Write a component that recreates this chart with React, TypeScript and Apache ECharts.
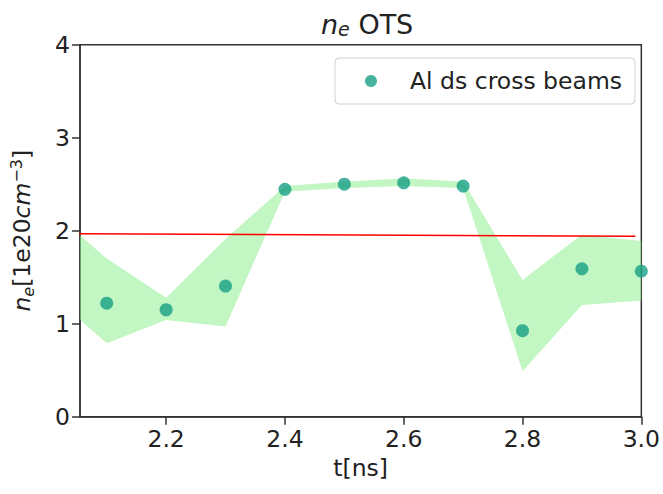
import React, { useEffect, useRef } from "react";
import * as echarts from "echarts";

// Band (fill_between) data
const tBand = [2.0, 2.1, 2.2, 2.3, 2.4, 2.5, 2.6, 2.7, 2.8, 2.9, 3.0];
const bandLower = [1.35, 0.79, 1.04, 0.97, 2.42, 2.46, 2.48, 2.46, 0.49, 1.2, 1.25];
const bandUpper = [2.26, 1.7, 1.28, 1.91, 2.48, 2.53, 2.56, 2.53, 1.47, 1.96, 1.89];

// Measured points
const tPoints = [2.1, 2.2, 2.3, 2.4, 2.5, 2.6, 2.7, 2.8, 2.9, 3.0];
const neValues = [1.22, 1.15, 1.405, 2.445, 2.5, 2.515, 2.48, 0.925, 1.59, 1.565];

// Reference (red) line
const refT = [2.0, 2.99];
const refNe = [1.97, 1.94];

// Ticks
const xTicks = [2.2, 2.4, 2.6, 2.8, 3.0];
const xTickLabels = ["2.2", "2.4", "2.6", "2.8", "3.0"];

const seriesName = "Al ds cross beams";

export default function App() {
  const ref = useRef<HTMLDivElement>(null);
  useEffect(() => {
    if (!ref.current) return;
    const chart = echarts.init(ref.current, null, { renderer: "svg" });
    const font = "DejaVu Sans";
    const axisColor = "#333";
    const txt = "#222";
    const fs = 23.5;
    const option: any = {
      animation: false,
      backgroundColor: "#fff",
      textStyle: { fontFamily: font },
      title: {
        text: "{i|n}{sub|e}{n| OTS}",
        left: 316,
        top: 1,
        textStyle: {
          fontWeight: "normal",
          rich: {
            i: { fontFamily: font, fontSize: 27, fontWeight: "normal", fontStyle: "italic", color: txt, lineHeight: 32, verticalAlign: "bottom" },
            sub: { fontFamily: font, fontSize: 19, fontWeight: "normal", fontStyle: "italic", color: txt, lineHeight: 14, verticalAlign: "bottom" },
            n: { fontFamily: font, fontSize: 27, fontWeight: "normal", color: txt, lineHeight: 32, verticalAlign: "bottom" },
          },
        },
      },
      legend: {
        left: 335,
        top: 58,
        padding: [11, 13, 11, 30],
        backgroundColor: "rgba(255,255,255,0.8)",
        borderColor: "#d0d0d0",
        borderWidth: 1,
        borderRadius: 4,
        itemWidth: 12,
        itemHeight: 12,
        data: [{ name: seriesName, icon: "circle" }],
        formatter: (name: string) => "{a|" + name + "}",
        textStyle: {
          fontFamily: font,
          fontSize: fs,
          color: txt,
          rich: { a: { fontFamily: font, fontSize: fs, color: txt, padding: [0, 0, 0, 28] } },
        },
      },
      grid: {
        left: 80,
        right: 18,
        top: 44.7,
        bottom: 77.3,
        show: true,
        borderColor: axisColor,
        borderWidth: 1.5,
        backgroundColor: "transparent",
      },
      xAxis: {
        type: "value",
        min: 2.055,
        max: 3.0,
        name: "t[ns]",
        nameLocation: "middle",
        nameGap: 36,
        nameTextStyle: { fontFamily: font, fontSize: fs, color: txt },
        splitLine: { show: false },
        axisLine: { show: true, lineStyle: { color: axisColor, width: 1.5 } },
        axisTick: { show: true, customValues: xTicks, length: 8, inside: false, lineStyle: { color: axisColor, width: 1.5 } },
        axisLabel: {
          customValues: xTicks,
          fontFamily: font,
          fontSize: fs,
          color: txt,
          margin: 10,
          formatter: (v: number) => {
            const i = xTicks.findIndex((t) => Math.abs(t - v) < 1e-6);
            return i >= 0 ? xTickLabels[i] : "";
          },
        },
      },
      yAxis: {
        type: "value",
        min: 0,
        max: 4,
        interval: 1,
        name: "{i|n}{sub|e}{n|[1e20}{i|cm}{sup|−3}{n|]}",
        nameLocation: "middle",
        nameRotate: 90,
        nameGap: 44,
        nameTextStyle: {
          rich: {
            i: { fontFamily: font, fontSize: fs, fontStyle: "italic", color: txt, lineHeight: 28, verticalAlign: "middle" },
            n: { fontFamily: font, fontSize: fs, color: txt, lineHeight: 28, verticalAlign: "middle" },
            sub: { fontFamily: font, fontSize: 16, fontStyle: "italic", color: txt, lineHeight: 12, verticalAlign: "bottom" },
            sup: { fontFamily: font, fontSize: 16, color: txt, lineHeight: 12, verticalAlign: "top" },
          },
        },
        splitLine: { show: false },
        axisLine: { show: true, lineStyle: { color: axisColor, width: 1.5 } },
        axisTick: { show: true, length: 8, inside: false, lineStyle: { color: axisColor, width: 1.5 } },
        axisLabel: { fontFamily: font, fontSize: fs, color: txt, margin: 10 },
      },
      series: [
        {
          type: "custom",
          name: "band",
          silent: true,
          clip: true,
          z: 1,
          data: tBand.map((t, i) => [t, bandLower[i], bandUpper[i]]),
          encode: { x: 0, y: [1, 2] },
          renderItem: (params: any, api: any) => {
            if (params.dataIndex !== 0) return null;
            const upperPts = tBand.map((t, i) => api.coord([t, bandUpper[i]]));
            const lowerPts = tBand.map((t, i) => api.coord([t, bandLower[i]])).reverse();
            return {
              type: "polygon",
              shape: { points: upperPts.concat(lowerPts) },
              style: { fill: "#90ee90", opacity: 0.55, stroke: "none" },
            };
          },
        },
        {
          type: "line",
          name: "ref",
          data: refT.map((t, i) => [t, refNe[i]]),
          symbol: "none",
          lineStyle: { color: "#ff0000", width: 1.5 },
          clip: true,
          z: 2,
        },
        {
          type: "scatter",
          name: seriesName,
          data: tPoints.map((t, i) => [t, neValues[i]]),
          symbol: "circle",
          symbolSize: 13,
          itemStyle: { color: "#17a085" },
          clip: false,
          z: 3,
        },
      ],
    };
    chart.setOption(option);
    return () => chart.dispose();
  }, []);
  return <div ref={ref} style={{ width: 663, height: 494, position: "absolute", left: 0, top: 0 }} />;
}
